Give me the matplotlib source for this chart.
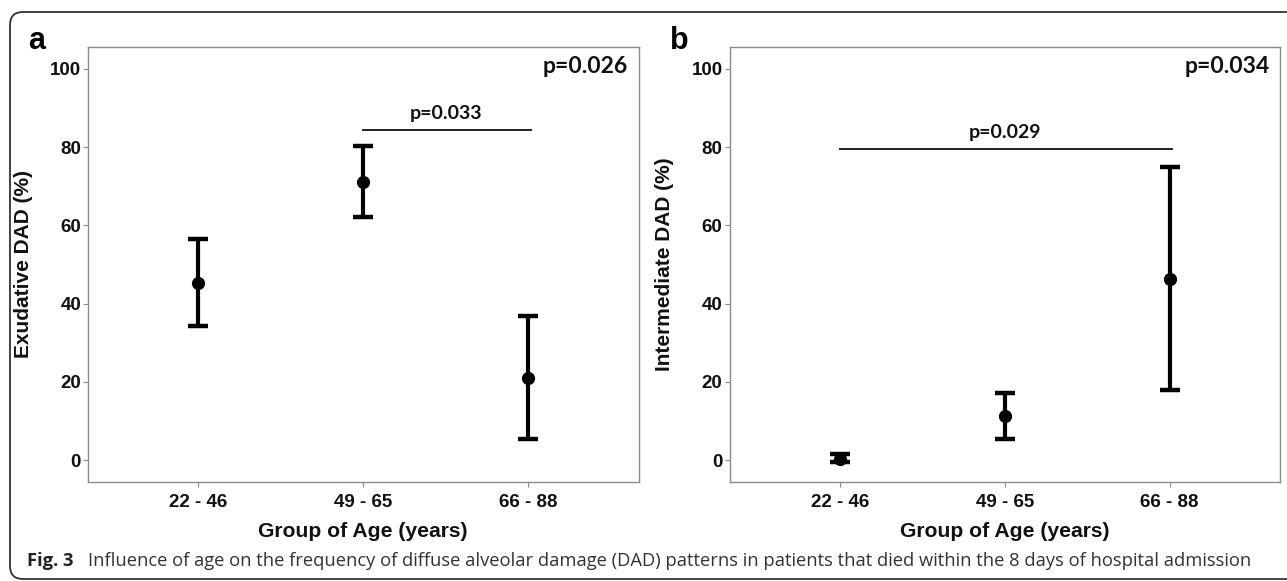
"""
Fig. 3 - DAD patterns by age group, two error-bar panels
"""

import numpy as np
import matplotlib
matplotlib.use("Agg")
import matplotlib.pyplot as plt
from matplotlib.patches import FancyBboxPatch

# ------------------------------
# Data
# ------------------------------
AGE_GROUPS = ['22 - 46', '49 - 65', '66 - 88']

# panel a: exudative DAD (%)
exud_mean = [45.3, 71.2, 21.1]
exud_low = [34.3, 62.2, 5.3]
exud_high = [56.4, 80.4, 36.9]

# panel b: intermediate DAD (%)
inter_mean = [0.4, 11.2, 46.4]
inter_low = [-0.6, 5.4, 17.8]
inter_high = [1.5, 17.2, 75.0]

# pairwise comparison brackets: (group from, group to, height, label)
bracket_a = (1, 2, 84.4, 'p=0.033')
bracket_b = (0, 2, 79.5, 'p=0.029')

overall_p_a = 'p=0.026'
overall_p_b = 'p=0.034'

YTICKS = [0, 20, 40, 60, 80, 100]

CAPTION = ('Influence of age on the frequency of diffuse alveolar damage (DAD) '
           'patterns in patients that died within the 8 days of hospital admission')

AX_FONT = 'Liberation Sans'
P_FONT = 'Lato'

# ------------------------------
# Figure
# ------------------------------
W, H = 1287, 581
fig = plt.figure(figsize=(W / 100, H / 100), dpi=100)
fig.patch.set_facecolor('white')

ax_a = fig.add_axes([88 / W, (H - 482) / H, 550.5 / W, 435 / H])
ax_b = fig.add_axes([729.5 / W, (H - 482) / H, 550.5 / W, 435 / H])


def draw_panel(ax, means, lows, highs, ylabel, bracket, overall_p):
    x = np.arange(len(AGE_GROUPS))
    means = np.array(means)
    yerr = [means - np.array(lows), np.array(highs) - means]
    ax.errorbar(x, means, yerr=yerr, fmt='o', color='black', ms=8.5,
                elinewidth=3, capsize=7, capthick=3.2, zorder=3)

    ax.set_xlim(-0.67, 2.67)
    ax.set_ylim(-5.6, 105.6)
    ax.set_xticks(x)
    ax.set_xticklabels(AGE_GROUPS)
    ax.set_yticks(YTICKS)

    for s in ax.spines.values():
        s.set_color('#8a8a8a')
        s.set_linewidth(1.0)
    ax.tick_params(direction='out', length=3.5, width=0.8, color='#8a8a8a')
    ax.tick_params(axis='x', pad=5)
    ax.tick_params(axis='y', pad=1.5)
    for lab in ax.get_xticklabels() + ax.get_yticklabels():
        lab.set_fontfamily(AX_FONT)
        lab.set_fontweight('bold')
        lab.set_fontsize(13.5)
        lab.set_color('#111111')

    ax.set_xlabel('Group of Age (years)', fontfamily=AX_FONT, fontweight='bold',
                  fontsize=15.2, color='#111111')
    ax.xaxis.set_label_coords(0.5, -0.092)
    ax.set_ylabel(ylabel, fontfamily=AX_FONT, fontweight='bold',
                  fontsize=15, color='#111111')
    ax.yaxis.set_label_coords(-0.1, 0.5)

    # comparison bracket
    g0, g1, yb, lab = bracket
    ax.plot([g0, g1 + 0.015], [yb, yb], color='#222222', lw=1.4)
    ax.text((g0 + g1) / 2, yb + 4.3, lab, ha='center', va='center',
            fontfamily=P_FONT, fontweight='bold', fontsize=14, color='#111111')

    # overall p value, top right corner
    ax.text(0.981, 100.6, overall_p, transform=ax.get_yaxis_transform(),
            ha='right', va='center', fontfamily=P_FONT, fontweight='bold',
            fontsize=16.5, color='#111111')


draw_panel(ax_a, exud_mean, exud_low, exud_high, 'Exudative DAD (%)',
           bracket_a, overall_p_a)
draw_panel(ax_b, inter_mean, inter_low, inter_high, 'Intermediate DAD (%)',
           bracket_b, overall_p_b)

# panel letters
fig.text(28 / W, 1 - 49 / H, 'a', fontfamily=AX_FONT, fontweight='bold',
         fontsize=22, ha='left', va='baseline')
fig.text(670 / W, 1 - 49 / H, 'b', fontfamily=AX_FONT, fontweight='bold',
         fontsize=22, ha='left', va='baseline')

# caption
fig.text(27 / W, 1 - 566 / H, 'Fig. 3', fontfamily='Open Sans', fontweight='bold',
         fontsize=13.2, ha='left', va='baseline', color='#222222')
fig.text(88 / W, 1 - 566 / H, CAPTION, fontfamily='Open Sans',
         fontsize=13.2, ha='left', va='baseline', color='#333333')

# rounded frame that runs off the right and bottom edges
frame = FancyBboxPatch((0.10, 0.02), 14.0, 5.67,
                       boxstyle='round,pad=0,rounding_size=0.13',
                       transform=fig.dpi_scale_trans, fill=False,
                       lw=1.3, ec='#333333')
fig.add_artist(frame)

fig.savefig('out.png', dpi=100)
